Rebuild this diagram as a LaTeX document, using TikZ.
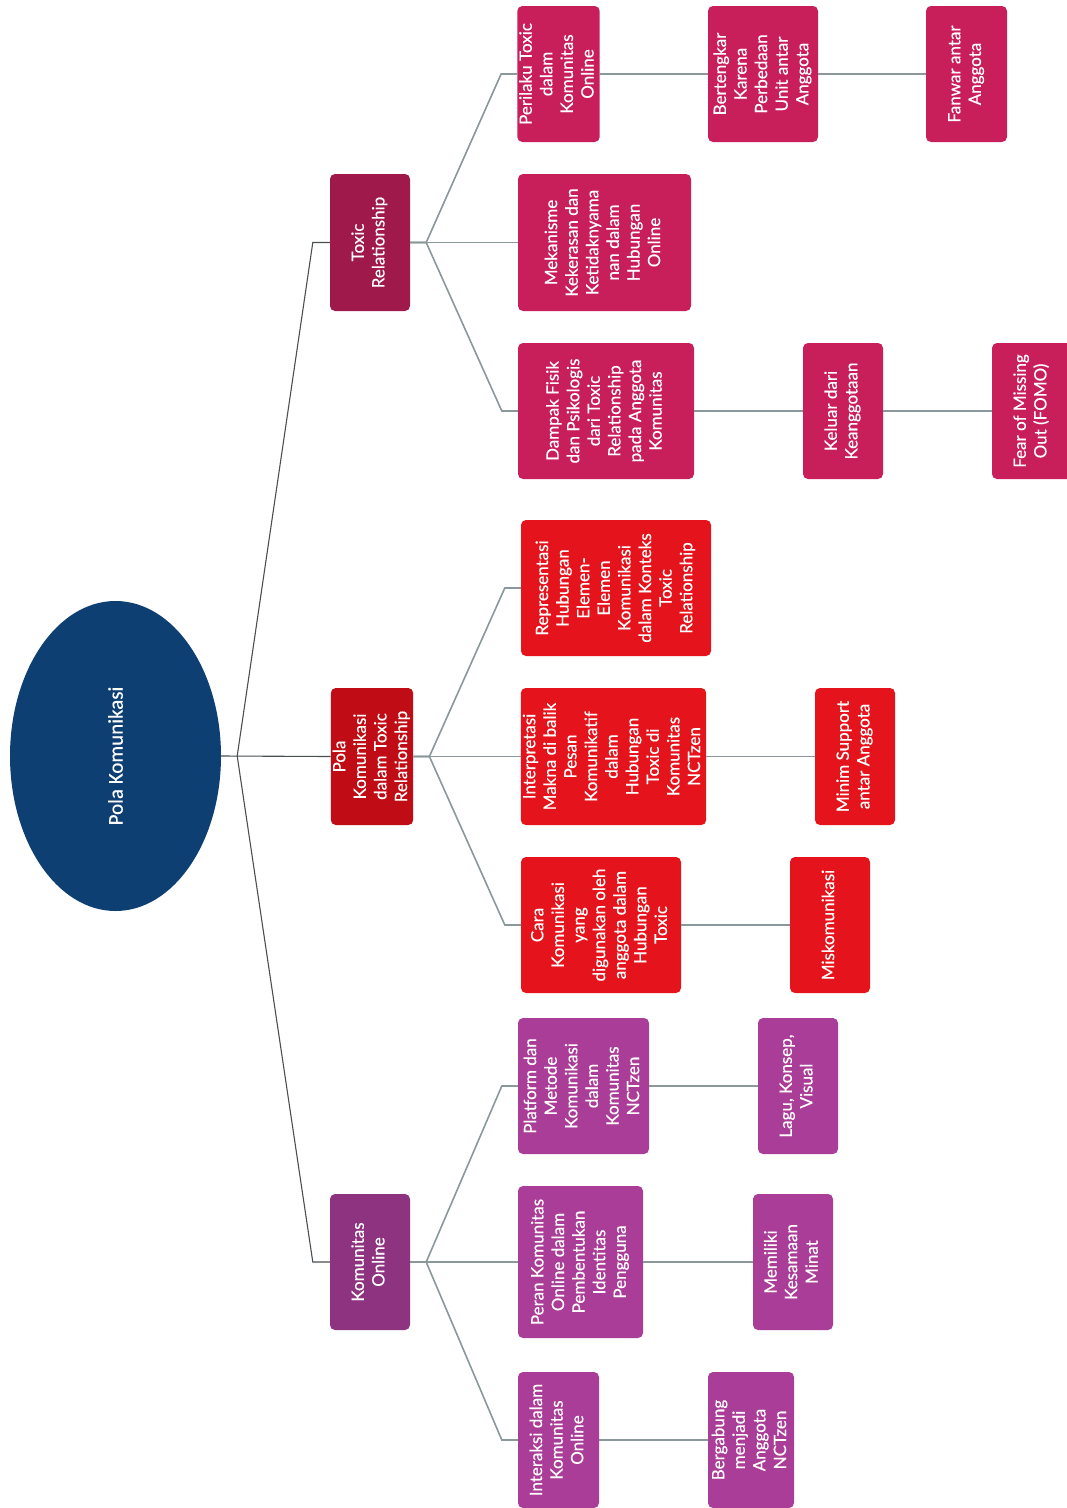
\documentclass[tikz,border=0pt]{standalone}
\usepackage{fontspec}
\setmainfont{Lato}[FakeBold=0.35]
\newfontfamily\rootfont{Carlito}[FakeBold=0.3]
\usetikzlibrary{shapes.geometric,calc}
\definecolor{cRoot}{HTML}{0E3F73}
\definecolor{cToxA}{HTML}{A0194B}
\definecolor{cToxB}{HTML}{C81F5A}
\definecolor{cPolA}{HTML}{C00C14}
\definecolor{cPolB}{HTML}{E5141C}
\definecolor{cKomA}{HTML}{8E3380}
\definecolor{cKomB}{HTML}{AA3D98}
\definecolor{cLine}{HTML}{8A989B}
\definecolor{cRootLine}{HTML}{4A4F52}
\newcommand{\rt}[1]{\rotatebox{90}{\fontsize{17}{20.6}\selectfont\begin{tabular}{@{}c@{}}#1\end{tabular}}}
\tikzset{
  mbox/.style={rectangle, rounded corners=5pt, inner sep=0pt, text=white},
  rootline/.style={draw=cRootLine, line width=1.1pt},
  lvline/.style={draw=cLine, line width=1.6pt},
}
\begin{document}
\begin{tikzpicture}[x=1pt,y=-1pt]
\useasboundingbox (0,0) rectangle (1067,1508);
% root
\node[ellipse, fill=cRoot, minimum width=211pt, minimum height=310pt, inner sep=0pt, text=white] (root) at (115.5,756) {\rotatebox{90}{\rootfont\fontsize{21}{24}\selectfont Pola Komunikasi}};
% level 1
\node[mbox, fill=cToxA, minimum width=80pt, minimum height=137pt] (tr) at (370,242.5) {\rt{Toxic\\Relationship}};
\node[mbox, fill=cPolA, minimum width=80pt, minimum height=137pt] (pk) at (372,756.5) {\rt{Pola\\Komunikasi\\dalam Toxic\\Relationship}};
\node[mbox, fill=cKomA, minimum width=80pt, minimum height=136pt] (ko) at (370,1262) {\rt{Komunitas\\Online}};
% toxic branch
\node[mbox, fill=cToxB, minimum width=81pt, minimum height=136pt] (t1) at (558.5,74) {\rt{Perilaku Toxic\\dalam\\Komunitas\\Online}};
\node[mbox, fill=cToxB, minimum width=173pt, minimum height=137pt] (t2) at (604.5,242.5) {\rt{Mekanisme\\Kekerasan dan\\Ketidaknyama\\nan dalam\\Hubungan\\Online}};
\node[mbox, fill=cToxB, minimum width=176pt, minimum height=136pt] (t3) at (606,411) {\rt{Dampak Fisik\\dan Psikologis\\dari Toxic\\Relationship\\pada Anggota\\Komunitas}};
\node[mbox, fill=cToxB, minimum width=110pt, minimum height=136pt] (t1a) at (763,74) {\rt{Bertengkar\\Karena\\Perbedaan\\Unit antar\\Anggota}};
\node[mbox, fill=cToxB, minimum width=81pt, minimum height=136pt] (t1b) at (966.5,74) {\rt{Fanwar antar\\Anggota}};
\node[mbox, fill=cToxB, minimum width=80pt, minimum height=136pt] (t3a) at (843,411) {\rt{Keluar dari\\Keanggotaan}};
\node[mbox, fill=cToxB, minimum width=80pt, minimum height=136pt] (t3b) at (1032,411) {\rt{Fear of Missing\\Out (FOMO)}};
% pola branch
\node[mbox, fill=cPolB, minimum width=190pt, minimum height=136pt] (p1) at (616,588) {\rt{Representasi\\Hubungan\\Elemen-\\Elemen\\Komunikasi\\dalam Konteks\\Toxic\\Relationship}};
\node[mbox, fill=cPolB, minimum width=185pt, minimum height=137pt] (p2) at (613.5,756.5) {\rt{Interpretasi\\Makna di balik\\Pesan\\Komunikatif\\dalam\\Hubungan\\Toxic di\\Komunitas\\NCTzen}};
\node[mbox, fill=cPolB, minimum width=160pt, minimum height=136pt] (p3) at (601,925) {\rt{Cara\\Komunikasi\\yang\\digunakan oleh\\anggota dalam\\Hubungan\\Toxic}};
\node[mbox, fill=cPolB, minimum width=80pt, minimum height=137pt] (p2a) at (855,756.5) {\rt{Minim Support\\antar Anggota}};
\node[mbox, fill=cPolB, minimum width=80pt, minimum height=136pt] (p3a) at (830,925) {\rt{Miskomunikasi}};
% komunitas branch
\node[mbox, fill=cKomB, minimum width=131pt, minimum height=136pt] (k1) at (583.5,1086) {\rt{Platform dan\\Metode\\Komunikasi\\dalam\\Komunitas\\NCTzen}};
\node[mbox, fill=cKomB, minimum width=125pt, minimum height=152pt] (k2) at (580.5,1262) {\rt{Peran Komunitas\\Online dalam\\Pembentukan\\Identitas\\Pengguna}};
\node[mbox, fill=cKomB, minimum width=81pt, minimum height=136pt] (k3) at (558.5,1440) {\rt{Interaksi dalam\\Komunitas\\Online}};
\node[mbox, fill=cKomB, minimum width=80pt, minimum height=136pt] (k1a) at (798,1086) {\rt{Lagu, Konsep,\\Visual}};
\node[mbox, fill=cKomB, minimum width=80pt, minimum height=136pt] (k2a) at (793,1262) {\rt{Memiliki\\Kesamaan\\Minat}};
\node[mbox, fill=cKomB, minimum width=86pt, minimum height=136pt] (k3a) at (751,1440) {\rt{Bergabung\\menjadi\\Anggota\\NCTzen}};
% junctions
\coordinate (j0) at ($(root.east)+(16,0)$);
\coordinate (jt) at ($(tr.east)+(16,0)$);
\coordinate (jp) at ($(pk.east)+(16,0)$);
\coordinate (jk) at ($(ko.east)+(16,0)$);
% root connectors
\draw[rootline] (root.east) -- (pk.west);
\draw[rootline] (j0) -- ([xshift=-17pt]tr.west) -- (tr.west);
\draw[rootline] (j0) -- ([xshift=-17pt]ko.west) -- (ko.west);
% level 1 -> 2
\foreach \p/\j/\c in {tr/jt/t1, tr/jt/t2, tr/jt/t3, pk/jp/p1, pk/jp/p2, pk/jp/p3, ko/jk/k1, ko/jk/k2, ko/jk/k3}{
  \draw[lvline] (\p.east) -- (\j) -- ([xshift=-16pt]\c.west) -- (\c.west);
}
% level 2 -> 3
\draw[lvline] (t1.east) -- (t1a.west);
\draw[lvline] (t1a.east) -- (t1b.west);
\draw[lvline] (t3.east) -- (t3a.west);
\draw[lvline] (t3a.east) -- (t3b.west);
\draw[lvline] (p2.east) -- (p2a.west);
\draw[lvline] (p3.east) -- (p3a.west);
\draw[lvline] (k1.east) -- (k1a.west);
\draw[lvline] (k2.east) -- (k2a.west);
\draw[lvline] (k3.east) -- (k3a.west);
\end{tikzpicture}
\end{document}
